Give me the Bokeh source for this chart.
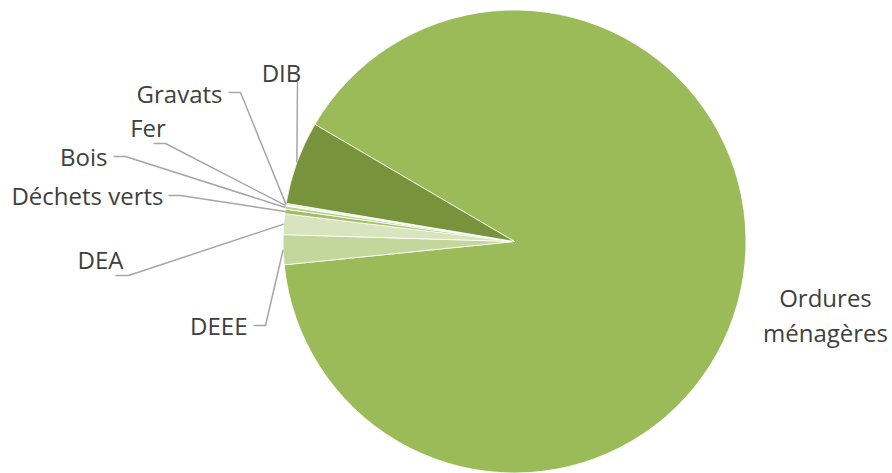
import math
from bokeh.plotting import figure
from bokeh.models import Range1d, ColumnDataSource
from bokeh.core.properties import value
from bokeh.embed import file_html
from bokeh.resources import INLINE

# ---------------- data ----------------
categories = ["Ordures ménagères", "DEEE", "DEA", "Déchets verts", "Bois", "Fer", "Gravats", "DIB"]
values = [89.94, 2.08, 1.44, 0.32, 0.22, 0.04, 0.14, 5.81]

# ---------------- styles / layout ----------------
colors = ["#9BBB59", "#C3D69B", "#D7E4BD", "#A2BF65", "#BBD190", "#D3E1B8", "#E3ECD3", "#77933C"]
W, H = 892, 473
CX, CY, R = 514, 241, 231.5          # pie centre (screen px) and radius
START_BEARING = 300.4                # clockwise from 12 o'clock, degrees
FONT = "Open Sans"
FONT_SIZE = "24px"
TEXT_COLOR = "#404040"
LEADER_COLOR = "#A6A6A6"
LINE_GAP = 34.4

# label layout in screen px: x, baseline y, alignment, wrapped text, leader elbow points
label_layout = {
    "Ordures ménagères": dict(x=825, y=297.3, align="center", text="Ordures\nménagères", path=None),
    "DEEE": dict(x=247, y=325, align="right", text="DEEE", path=[(253, 325), (265, 325)]),
    "DEA": dict(x=100, y=259.3, align="center", text="DEA", path=[(115, 275), (128, 275)]),
    "Déchets verts": dict(x=163, y=195, align="right", text="Déchets verts", path=[(168, 195), (180, 195)]),
    "Bois": dict(x=107, y=156, align="right", text="Bois", path=[(113, 156), (125, 156)]),
    "Fer": dict(x=147.5, y=127.3, align="center", text="Fer", path=[(153, 143), (165, 143)]),
    "Gravats": dict(x=222, y=93.3, align="right", text="Gravats", path=[(228, 92), (240, 92)]),
    "DIB": dict(x=281, y=71.7, align="center", text="DIB", path=[(297, 78)]),
}

def sy(y):
    return H - y

total = float(sum(values))
starts, ends, xs_anchor, ys_anchor = [], [], [], []
cum = 0.0
for v in values:
    b1 = START_BEARING + cum / total * 360.0
    b2 = b1 + v / total * 360.0
    cum += v
    starts.append(math.radians(90.0 - b2))
    ends.append(math.radians(90.0 - b1))
    bm = math.radians((b1 + b2) / 2.0)
    xs_anchor.append(CX + R * math.sin(bm))
    ys_anchor.append(sy(CY) + R * math.cos(bm))

p = figure(width=W, height=H, x_range=Range1d(0, W), y_range=Range1d(0, H),
           output_backend="svg", toolbar_location=None, min_border=0)
p.axis.visible = False
p.grid.visible = False
p.outline_line_color = None
p.background_fill_color = "white"
p.border_fill_color = "white"

src = ColumnDataSource(dict(cat=categories, val=values, start=starts, end=ends, color=colors))
p.wedge(x=CX, y=sy(CY), radius=R, start_angle="start", end_angle="end", direction="anticlock",
        fill_color="color", line_color="white", line_width=0.8, source=src)

# leader lines
lxs, lys = [], []
for i, c in enumerate(categories):
    lay = label_layout[c]
    if not lay["path"]:
        continue
    pts = [(x, sy(y)) for x, y in lay["path"]] + [(xs_anchor[i], ys_anchor[i])]
    lxs.append([pt[0] for pt in pts])
    lys.append([pt[1] for pt in pts])
p.multi_line(xs=lxs, ys=lys, line_color=LEADER_COLOR, line_width=1.5)

# labels
tx, ty, tt, ta = [], [], [], []
for c in categories:
    lay = label_layout[c]
    for k, line in enumerate(lay["text"].split("\n")):
        tx.append(lay["x"])
        ty.append(sy(lay["y"] + k * LINE_GAP))
        tt.append(line)
        ta.append(lay["align"])
p.text(x=tx, y=ty, text=tt, text_align=ta, text_baseline="alphabetic",
       text_font=value(FONT), text_font_size=FONT_SIZE, text_color=TEXT_COLOR)

open("out.html", "w").write(file_html(p, INLINE))
